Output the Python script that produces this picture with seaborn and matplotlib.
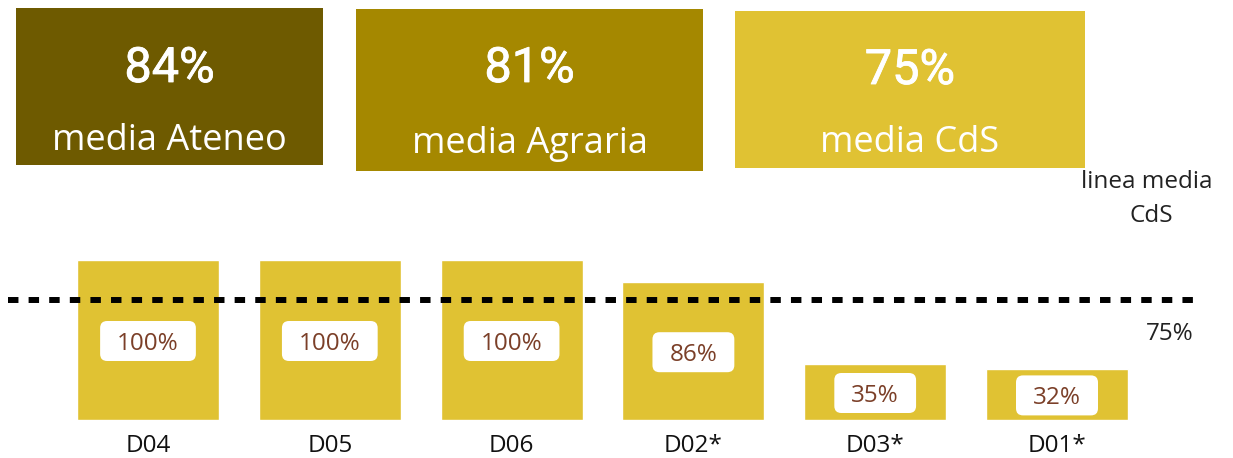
import matplotlib
matplotlib.use('agg')
import matplotlib.pyplot as plt
import matplotlib.transforms as mtransforms
import matplotlib.patheffects as pe
from matplotlib.patches import Rectangle, FancyBboxPatch
import seaborn as sns

# data
categories = ['D04', 'D05', 'D06', 'D02*', 'D03*', 'D01*']
values = [100, 100, 100, 86, 35, 32]
cds_mean = 75
summary_vals = [84, 81, 75]
summary_labels = ['media Ateneo', 'media Agraria', 'media CdS']
summary_colors = ['#6e5a00', '#a58800', '#e0c233']
bar_color = '#e0c233'
label_color = '#7b3f28'

sns.set_style('white')
plt.rcParams['font.family'] = ['Open Sans', 'DejaVu Sans']

W, H = 1233, 458
fig = plt.figure(figsize=(W / 100, H / 100), dpi=100)

# bar axes: base at 420px from top, 1.6 px per %
ax = fig.add_axes([0, 38 / H, 1, 200 / H])
sns.barplot(x=categories, y=values, color=bar_color, saturation=1, width=0.78, ax=ax)
step = 181.8
ax.set_xlim(-148 / step, (W - 148) / step)
ax.set_ylim(0, 125)
sns.despine(ax=ax, left=True, bottom=True)
ax.set_yticks([])
ax.set_ylabel('')
ax.set_xlabel('')
ax.tick_params(axis='x', length=0, pad=10, labelsize=17.5, labelcolor='#111111')

# dashed mean line
ax.plot([(8 - 148) / step, (1203 - 148) / step], [cds_mean, cds_mean], color='black',
        lw=4.3, ls=(0, (1.75, 1.7)), zorder=5, clip_on=False)

texts = []
for i, v in enumerate(values):
    t = ax.text(i, v / 2 - 2.5, f'{v}%', ha='center', va='center', fontsize=17.5,
                color=label_color, zorder=7)
    texts.append(t)

fig.canvas.draw()
r = fig.canvas.get_renderer()
for i, (t, v) in enumerate(zip(texts, values)):
    bb = t.get_window_extent(r)
    cx, cy = ax.transData.transform((i, v / 2))
    w, h = bb.width + 34, 40
    p = FancyBboxPatch((cx - w / 2, cy - h / 2 - 1), w, h,
                       boxstyle='round,pad=0,rounding_size=7',
                       transform=mtransforms.IdentityTransform(),
                       fc='white', ec='none', zorder=6)
    ax.add_patch(p)

# overlay in pixel coords
ov = fig.add_axes([0, 0, 1, 1], zorder=3)
ov.set_xlim(0, W)
ov.set_ylim(H, 0)
ov.axis('off')
ov.patch.set_alpha(0)

boxes = [(16, 8, 307, 157), (356, 9, 347, 162), (735, 11, 350, 157)]
num_base = [82, 82, 84]
lab_base = [150, 153, 152]
for (x0, y0, bw, bh), val, lab, col, nb, lb in zip(boxes, summary_vals, summary_labels,
                                                    summary_colors, num_base, lab_base):
    ov.add_patch(Rectangle((x0, y0), bw, bh, fc=col, ec='none'))
    cx = x0 + bw / 2
    ov.text(cx, nb, f'{val}%', ha='center', va='baseline', fontsize=35,
            family=['Roboto', 'DejaVu Sans'], fontweight='normal', color='white',
            path_effects=[pe.withStroke(linewidth=0.6, foreground='white')])
    t = ov.text(cx, lb, lab, ha='center', va='baseline', fontsize=26, color='white')
    clip = Rectangle((x0, y0), bw, 159 - y0, transform=ov.transData)
    t.set_clip_path(clip)

ov.text(1147, 188, 'linea media', ha='center', va='baseline', fontsize=17.5, color='#222222')
ov.text(1151, 222, 'CdS', ha='center', va='baseline', fontsize=17.5, color='#222222')
ov.text(1170, 340, f'{cds_mean}%', ha='center', va='baseline', fontsize=17.5, color='#222222')

fig.savefig('out.png', dpi=100)
